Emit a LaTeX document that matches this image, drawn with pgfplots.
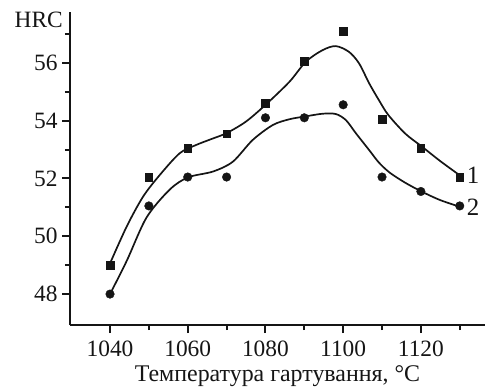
\documentclass[border=0pt]{standalone}
\usepackage{fontspec}
\setmainfont{Liberation Serif}
\usepackage{pgfplots}
\pgfplotsset{compat=1.18}
\definecolor{ink}{HTML}{151515}
\begin{document}
\begin{tikzpicture}
\useasboundingbox (-70bp,-65bp) rectangle (417bp,325bp);
\begin{axis}[
  at={(0,0)}, anchor=south west,
  width=415bp, height=313bp, scale only axis,
  xmin=1029.7, xmax=1136.5, ymin=46.93, ymax=57.76,
  axis x line*=bottom, axis y line*=left,
  axis line style={line width=2.3bp, ink, -},
  xtick={1040,1060,...,1120}, minor xtick={1050,1070,...,1130},
  ytick={48,50,...,56}, minor ytick={49,51,...,57},
  tick align=outside,
  major tick length=8bp, minor tick length=5bp,
  every tick/.style={line width=2bp, ink},
  tick label style={font=\fontsize{23.5}{25}\selectfont, text=ink},
  /pgf/number format/assume math mode=true,
  /pgf/number format/set thousands separator={},
  xticklabel style={yshift=-4bp},
  yticklabel style={xshift=-1bp},
  xlabel={Температура гартування, °C},
  xlabel style={font=\fontsize{24}{25}\selectfont, text=ink, yshift=-2bp},
  clip=false,
]
% fitted curve 1
\addplot[ink, line width=1.7bp, smooth] coordinates {
(1040,49.06) (1044.3,50.34) (1048.5,51.37) (1052.8,52.12) (1057.9,52.87)
(1062,53.15) (1066,53.36) (1070,53.57) (1075,53.97) (1080.2,54.57)
(1086.2,55.35) (1090.4,56.04) (1094.7,56.44) (1098.1,56.58) (1101.5,56.38)
(1104.1,55.98) (1106.7,55.29) (1109.2,54.71) (1111.6,54.2) (1116,53.55)
(1120.3,53.1) (1125,52.6) (1130.5,52.06)};
% fitted curve 2
\addplot[ink, line width=1.7bp, smooth] coordinates {
(1040,48.0) (1044.3,49.15) (1049.4,50.65) (1055.4,51.62) (1060.1,52.04)
(1066.5,52.24) (1071.6,52.58) (1076.7,53.33) (1081.9,53.85) (1086.2,54.05)
(1090.4,54.15) (1094.7,54.24) (1098.1,54.23) (1100.7,54.02) (1103.3,53.56)
(1106.7,52.98) (1109.2,52.55) (1112,52.2) (1116,51.85) (1120.3,51.54)
(1125,51.25) (1130.5,51.0)};
% measured points 1
\addplot[only marks, mark=square*, mark size=3.8bp, ink] coordinates {
(1040,49) (1050,52.05) (1060,53.05) (1070,53.55) (1080,54.6)
(1090,56.05) (1100,57.1) (1110,54.05) (1120,53.05) (1130,52.05)};
% measured points 2
\addplot[only marks, mark=*, mark size=4.3bp, ink] coordinates {
(1040,48) (1050,51.05) (1060,52.05) (1070,52.05) (1080,54.1)
(1090,54.1) (1100,54.55) (1110,52.05) (1120,51.55) (1130,51.05)};
\node[anchor=west, inner sep=0pt, font=\fontsize{25}{26}\selectfont, text=ink] at (axis cs:1131.8,52.1) {1};
\node[anchor=west, inner sep=0pt, font=\fontsize{25}{26}\selectfont, text=ink] at (axis cs:1131.8,51.0) {2};
\node[anchor=north east, inner sep=0pt, font=\fontsize{23.5}{25}\selectfont, text=ink, xshift=-7bp, yshift=0bp] at (rel axis cs:0,1) {HRC};
\end{axis}
\end{tikzpicture}
\end{document}
